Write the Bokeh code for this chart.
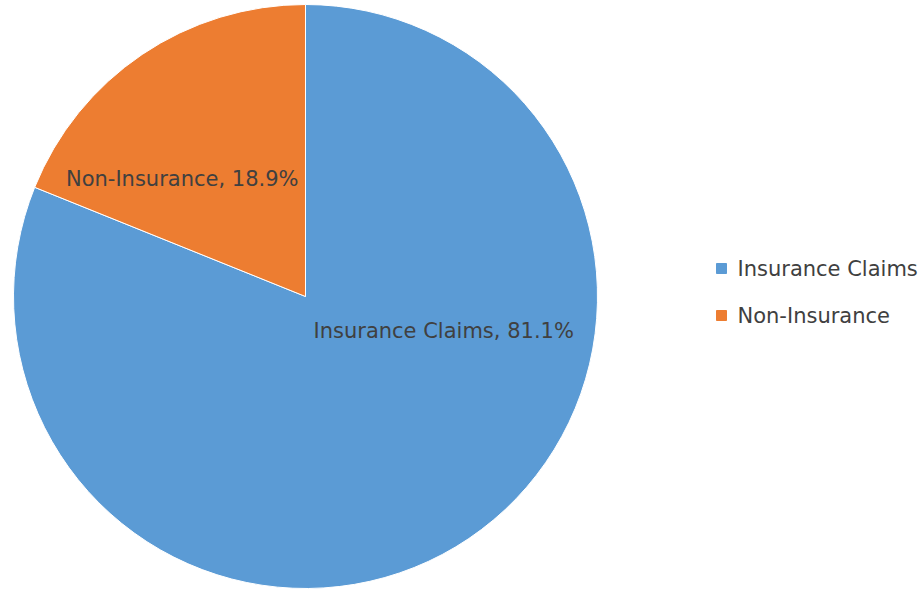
import numpy as np
from bokeh.plotting import figure
from bokeh.models import Range1d, ColumnDataSource
from bokeh.core.properties import value
from bokeh.embed import file_html
from bokeh.resources import INLINE

categories = ["Insurance Claims", "Non-Insurance"]
shares = [81.1, 18.9]
colors = ["#5B9BD5", "#ED7D31"]

W, H = 924, 589
cx, cy, r = 305, H - 296, 292

p = figure(width=W, height=H, output_backend="svg", toolbar_location=None,
           x_range=Range1d(0, W), y_range=Range1d(0, H), min_border=0)
p.axis.visible = False
p.grid.visible = False
p.outline_line_color = None
p.background_fill_color = "white"
p.border_fill_color = "white"

# clockwise from 12 o'clock
fr = np.array(shares) / sum(shares) * 2 * np.pi
ends = np.pi / 2 - np.concatenate([[0], np.cumsum(fr)[:-1]])
starts = ends - fr
src = ColumnDataSource(dict(start=starts, end=ends, color=colors))
p.wedge(x=cx, y=cy, radius=r, start_angle="start", end_angle="end",
        fill_color="color", line_color="white", line_width=1, source=src)

labels = [f"{c}, {s}%" for c, s in zip(categories, shares)]
lx = [cx + 8, cx - 7]
ly = [H - 330, H - 178]
align = ["left", "right"]
p.text(x=lx, y=ly, text=labels, text_align=align, text_baseline="middle",
       text_font=value("DejaVu Sans"), text_font_size="21px", text_color="#404040")

# legend
leg_y = [H - 268, H - 315]
p.scatter(x=[721] * 2, y=leg_y, marker="square", size=10, color=colors)
p.text(x=[737] * 2, y=leg_y, text=categories, text_baseline="middle",
       text_font=value("DejaVu Sans"), text_font_size="21px", text_color="#404040")

open("out.html", "w").write(file_html(p, INLINE))
